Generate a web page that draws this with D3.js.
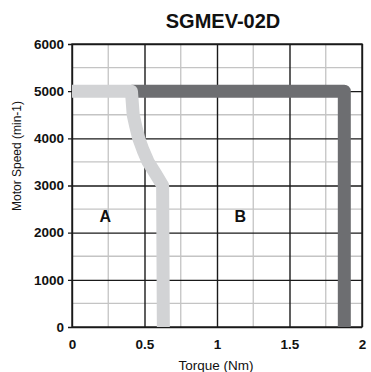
<!DOCTYPE html>
<html>
<head>
<meta charset="utf-8">
<script src="https://cdn.jsdelivr.net/npm/d3@7"></script>
<style>
  body { margin: 0; background: #fff; }
  text { font-family: "Liberation Sans", Arial, sans-serif; fill: #111; }
</style>
</head>
<body>
<div id="chart"></div>
<script>
// speed-torque curve
const xTicks = [0, 0.5, 1, 1.5, 2];
const xMinor = [0.25, 0.75, 1.25, 1.75];
const yTicks = [0, 1000, 2000, 3000, 4000, 5000, 6000];
const yMinor = [500, 1500, 2500, 3500, 4500, 5500];

// region A boundary (light gray)
const torqueA = [0, 0.41, 0.422, 0.44, 0.46, 0.49, 0.525, 0.576, 0.625, 0.63];
const speedA = [5000, 5000, 4500, 4250, 4000, 3750, 3500, 3250, 3000, 0];
// region B boundary (dark gray)
const torqueB = [0.41, 1.878, 1.878];
const speedB = [5000, 5000, 0];

const regionLabels = [
  { text: "A", torque: 0.23, speed: 2230 },
  { text: "B", torque: 1.16, speed: 2230 }
];

const W = 371, H = 372;
const margin = { top: 44, right: 9, bottom: 45, left: 72 };
const width = W - margin.left - margin.right;
const height = H - margin.top - margin.bottom;

const x = d3.scaleLinear().domain([0, 2]).range([0, width]);
const y = d3.scaleLinear().domain([0, 6000]).range([height, 0]);

const svg = d3.select("#chart").append("svg")
  .attr("width", W).attr("height", H);

const g = svg.append("g")
  .attr("transform", "translate(" + margin.left + "," + margin.top + ")");

// minor grid
g.selectAll(".vminor").data(xMinor).enter().append("line")
  .attr("x1", d => x(d)).attr("x2", d => x(d))
  .attr("y1", 0).attr("y2", height)
  .attr("stroke", "#c4c4c4").attr("stroke-width", 1.3);
g.selectAll(".hminor").data(yMinor).enter().append("line")
  .attr("x1", 0).attr("x2", width)
  .attr("y1", d => y(d)).attr("y2", d => y(d))
  .attr("stroke", "#c4c4c4").attr("stroke-width", 1.3);

// major grid + axes
const xAxis = d3.axisBottom(x).tickValues(xTicks).tickSize(-height).tickPadding(12)
  .tickFormat(d => d3.format("~g")(d));
const yAxis = d3.axisLeft(y).tickValues(yTicks).tickSize(-width - 4).tickPadding(4)
  .tickFormat(d3.format("d"));

const gx = g.append("g").attr("transform", "translate(0," + height + ")").call(xAxis);
const gy = g.append("g").attr("transform", "translate(-4,0)").call(yAxis);

[gx, gy].forEach(a => {
  a.select(".domain").remove();
  a.selectAll(".tick line").attr("stroke", "#1a1a1a").attr("stroke-width", 1.4);
  a.selectAll(".tick text")
    .attr("font-size", 13.5).attr("font-weight", "bold")
    .style("font-family", "'Liberation Sans', Arial, sans-serif")
    .attr("fill", "#111");
});
gx.selectAll(".tick line").attr("y1", 0);
gy.selectAll(".tick line").attr("x1", 0);

// frame
g.append("rect").attr("width", width).attr("height", height)
  .attr("fill", "none").attr("stroke", "#1a1a1a").attr("stroke-width", 1.4);

const line = d3.line().x(d => x(d[0])).y(d => y(d[1]));

g.append("path")
  .datum(torqueB.map((t, i) => [t, speedB[i]]))
  .attr("d", line)
  .attr("fill", "none").attr("stroke", "#6d6e71")
  .attr("stroke-width", 13).attr("stroke-linejoin", "round");

g.append("path")
  .datum(torqueA.map((t, i) => [t, speedA[i]]))
  .attr("d", line)
  .attr("fill", "none").attr("stroke", "#d2d3d5")
  .attr("stroke-width", 13).attr("stroke-linejoin", "round");

g.selectAll(".region").data(regionLabels).enter().append("text")
  .attr("x", d => x(d.torque)).attr("y", d => y(d.speed))
  .attr("text-anchor", "middle")
  .attr("font-size", 16).attr("font-weight", "bold")
  .text(d => d.text);

// title + axis labels
svg.append("text")
  .attr("x", 223).attr("y", 28)
  .attr("text-anchor", "middle")
  .attr("font-size", 20).attr("font-weight", "bold")
  .text("SGMEV-02D");

svg.append("text")
  .attr("x", 216).attr("y", 370)
  .attr("text-anchor", "middle")
  .attr("font-size", 13.5)
  .text("Torque (Nm)");

svg.append("text")
  .attr("transform", "translate(21,156)rotate(-90)")
  .attr("text-anchor", "middle")
  .attr("font-size", 12)
  .text("Motor Speed (min-1)");
</script>
</body>
</html>
